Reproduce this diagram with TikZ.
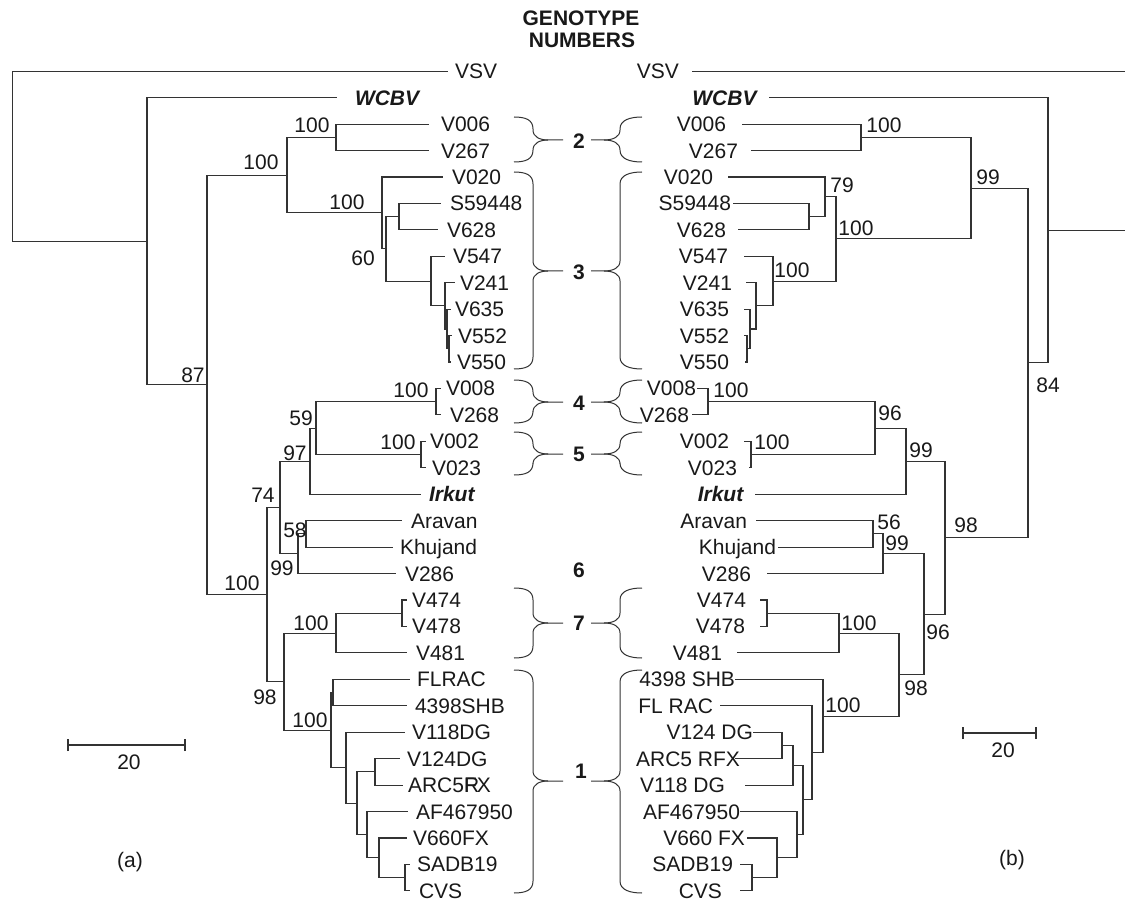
\documentclass[tikz,border=0pt]{standalone}
\usepackage{fontspec}
\setmainfont{Liberation Sans}
\newcommand\Row[1]{71.2+26.44*#1}
\newcommand\LeafL[5]{\coordinate (#1) at (#2,{\Row{#3}}); \node[leaf,anchor=base west] (#1t) at (#4,{\Row{#3}+7.5}) {#5};}
\newcommand\LeafR[5]{\coordinate (#1) at (#2,{\Row{#3}}); \node[leaf,anchor=base east] (#1t) at (#4,{\Row{#3}+7.5}) {#5};}
\newcommand\Inner[3]{\coordinate (#1) at (#2,{\Row{#3}});}
\newcommand\BrL[3]{\draw[brc] (514,#1) .. controls (526,#1) and (533,#1+3) .. (533,#1+12) -- (533,#3-10) .. controls (533,#3-3) and (540,#3) .. (548,#3) -- (563,#3);
 \draw[brc] (514,#2) .. controls (526,#2) and (533,#2-3) .. (533,#2-12) -- (533,#3+10) .. controls (533,#3+3) and (540,#3) .. (548,#3);}
\newcommand\BrR[3]{\draw[brc] (642,#1) .. controls (630,#1) and (620,#1+3) .. (620,#1+12) -- (620,#3-10) .. controls (620,#3-3) and (613,#3) .. (604,#3) -- (591,#3);
 \draw[brc] (642,#2) .. controls (630,#2) and (620,#2-3) .. (620,#2-12) -- (620,#3+10) .. controls (620,#3+3) and (613,#3) .. (604,#3);}
\begin{document}
\begin{tikzpicture}[x=1pt,y=-1pt,
  every node/.style={inner sep=0pt,outer sep=0pt,text=black!90},
  leaf/.style={font=\fontsize{21}{24}\selectfont},
  bs/.style={font=\fontsize{21}{24}\selectfont,anchor=center},
  gen/.style={font=\bfseries\fontsize{21}{24}\selectfont,anchor=center},
  tree/.style={line width=1.1pt,draw=black!80},
  brc/.style={line width=1pt,draw=black!80}]
\useasboundingbox[fill=white] (0,0) rectangle (1125,901);

% title
\node[gen] (t1) at (581,18) {GENOTYPE};
\node[gen] (t2) at (582,40) {NUMBERS};

% ---------------- left tree ----------------
\LeafL{lVSV}{448}{0}{455}{VSV}
\LeafL{lWCBV}{337}{1}{355}{\textbf{\textit{WCBV}}}
\LeafL{lV006}{429}{2}{441}{V006}
\LeafL{lV267}{429}{3}{441}{V267}
\LeafL{lV020}{443}{4}{452}{V020}
\LeafL{lS59448}{441}{5}{450}{S59448}
\LeafL{lV628}{438}{6}{447}{V628}
\LeafL{lV547}{445}{7}{453}{V547}
\LeafL{lV241}{455}{8}{460}{V241}
\LeafL{lV635}{451}{9}{455}{V635}
\LeafL{lV552}{452}{10}{458}{V552}
\LeafL{lV550}{451}{11}{457}{V550}
\LeafL{lV008}{441}{12}{446}{V008}
\LeafL{lV268}{441}{13}{450}{V268}
\LeafL{lV002}{426}{14}{430}{V002}
\LeafL{lV023}{426}{15}{432}{V023}
\LeafL{lIrkut}{421}{16}{429}{\textbf{\textit{Irkut}}}
\LeafL{lAravan}{402}{17}{411}{Aravan}
\LeafL{lKhujand}{393}{18}{400}{Khujand}
\LeafL{lV286}{396}{19}{405}{V286}
\LeafL{lV474}{407}{20}{412}{V474}
\LeafL{lV478}{407}{21}{412}{V478}
\LeafL{lV481}{407}{22}{416}{V481}
\LeafL{lFLRAC}{410}{23}{417}{FLRAC}
\LeafL{lSHB}{407}{24}{415}{4398SHB}
\LeafL{lV118}{405}{25}{412}{V118DG}
\LeafL{lV124}{400}{26}{407}{V124DG}
\LeafL{lARC}{403}{27}{408}{ARC5\rlap{R}FX}
\LeafL{lAF}{408}{28}{416}{AF467950}
\LeafL{lV660}{407}{29}{413}{V660FX}
\LeafL{lSADB}{410}{30}{417}{SADB19}
\LeafL{lCVS}{410}{31}{419}{CVS}

\Inner{lroot}{12.5}{3.215}
\Inner{nW}{147}{6.43}
\Inner{nB}{207}{11.86}
\Inner{nA}{287}{3.93}
\Inner{n2}{336}{2.5}
\Inner{n3}{382}{5.36}
\Inner{n60}{386}{6.72}
\Inner{nS}{399}{5.5}
\Inner{n547}{431}{7.94}
\Inner{n241}{445}{8.875}
\Inner{n635}{447}{9.75}
\Inner{n552}{449}{10.5}
\Inner{nC}{267}{19.79}
\Inner{n74}{280}{16.5}
\Inner{n97}{310}{14.75}
\Inner{n59}{316}{13.5}
\Inner{n4}{436}{12.5}
\Inner{n5}{421}{14.5}
\Inner{n99}{298}{18.25}
\Inner{n58}{306}{17.5}
\Inner{n98}{284}{23.085}
\Inner{n7}{336}{21.25}
\Inner{n78}{402}{20.5}
\Inner{n1}{331}{24.92}
\Inner{nFL}{333}{23.5}
\Inner{nX}{346}{26.34}
\Inner{nY}{357}{27.69}
\Inner{nV124}{375}{26.5}
\Inner{nZ}{367}{28.875}
\Inner{nWw}{379}{29.75}
\Inner{nSC}{405}{30.5}

\draw[tree] (lroot)|-(lVSV) (lroot)|-(nW)
 (nW)|-(lWCBV) (nW)|-(nB)
 (nB)|-(nA) (nB)|-(nC)
 (nA)|-(n2) (nA)|-(n3)
 (n2)|-(lV006) (n2)|-(lV267)
 (n3)|-(lV020) (n3)|-(n60)
 (n60)|-(nS) (n60)|-(n547)
 (nS)|-(lS59448) (nS)|-(lV628)
 (n547)|-(lV547) (n547)|-(n241)
 (n241)|-(lV241) (n241)|-(n635)
 (n635)|-(lV635) (n635)|-(n552)
 (n552)|-(lV552) (n552)|-(lV550)
 (nC)|-(n74) (nC)|-(n98)
 (n74)|-(n97) (n74)|-(n99)
 (n97)|-(n59) (n97)|-(lIrkut)
 (n59)|-(n4) (n59)|-(n5)
 (n4)|-(lV008) (n4)|-(lV268)
 (n5)|-(lV002) (n5)|-(lV023)
 (n99)|-(n58) (n99)|-(lV286)
 (n58)|-(lAravan) (n58)|-(lKhujand)
 (n98)|-(n7) (n98)|-(n1)
 (n7)|-(n78) (n7)|-(lV481)
 (n78)|-(lV474) (n78)|-(lV478)
 (n1)|-(nFL) (n1)|-(nX)
 (nFL)|-(lFLRAC) (nFL)|-(lSHB)
 (nX)|-(lV118) (nX)|-(nY)
 (nY)|-(nV124) (nY)|-(nZ)
 (nV124)|-(lV124) (nV124)|-(lARC)
 (nZ)|-(lAF) (nZ)|-(nWw)
 (nWw)|-(lV660) (nWw)|-(nSC)
 (nSC)|-(lSADB) (nSC)|-(lCVS);

% left bootstrap values
\node[bs] (b1) at (312,125) {100};
\node[bs] (b2) at (261,162) {100};
\node[bs] (b3) at (347,202) {100};
\node[bs] (b4) at (363,258) {60};
\node[bs] (b5) at (193,375) {87};
\node[bs] (b6) at (411,390) {100};
\node[bs] (b7) at (301,418) {59};
\node[bs] (b8) at (398,442) {100};
\node[bs] (b9) at (295,453) {97};
\node[bs] (b10) at (263,495) {74};
\node[bs] (b11) at (295,530) {58};
\node[bs] (b12) at (282,568) {99};
\node[bs] (b13) at (242,583) {100};
\node[bs] (b14) at (311,623) {100};
\node[bs] (b15) at (265,697) {98};
\node[bs] (b16) at (310,720) {100};

% ---------------- right tree ----------------
\LeafR{rVSV}{692}{0}{679}{VSV}
\LeafR{rWCBV}{769}{1}{758}{\textbf{\textit{WCBV}}}
\LeafR{rV006}{742}{2}{726}{V006}
\LeafR{rV267}{751}{3}{738}{V267}
\LeafR{rV020}{728}{4}{713}{V020}
\LeafR{rS59448}{733}{5}{731}{S59448}
\LeafR{rV628}{738}{6}{726}{V628}
\LeafR{rV547}{744}{7}{728}{V547}
\LeafR{rV241}{746}{8}{732}{V241}
\LeafR{rV635}{744}{9}{729}{V635}
\LeafR{rV552}{744}{10}{729}{V552}
\LeafR{rV550}{745}{11}{729}{V550}
\LeafR{rV008}{697}{12}{696}{V008}
\LeafR{rV268}{692}{13}{689}{V268}
\LeafR{rV002}{744}{14}{729}{V002}
\LeafR{rV023}{749}{15}{737}{V023}
\LeafR{rIrkut}{755}{16}{744}{\textbf{\textit{Irkut}}}
\LeafR{rAravan}{756}{17}{747}{Aravan}
\LeafR{rKhujand}{778}{18}{776}{Khujand}
\LeafR{rV286}{767}{19}{751}{V286}
\LeafR{rV474}{760}{20}{746}{V474}
\LeafR{rV478}{760}{21}{745}{V478}
\LeafR{rV481}{737}{22}{722}{V481}
\LeafR{rSHB}{735}{23}{735}{4398 SHB}
\LeafR{rFLRAC}{720}{24}{713}{FL RAC}
\LeafR{rV124}{753}{25}{753}{V124 DG}
\LeafR{rARC}{735}{26}{740}{ARC5 RFX}
\LeafR{rV118}{745}{27}{725}{V118 DG}
\LeafR{rAF}{740}{28}{740}{AF467950}
\LeafR{rV660}{747}{29}{745}{V660 FX}
\LeafR{rSADB}{740}{30}{733}{SADB19}
\LeafR{rCVS}{740}{31}{722}{CVS}

\Inner{rEdgeV}{1125}{0}
\Inner{rEdgeW}{1125}{6.01}
\Inner{rW}{1048}{6.01}
\Inner{rB}{1028}{11.03}
\Inner{rA}{971}{4.42}
\Inner{r2}{861}{2.5}
\Inner{r3}{836}{6.34}
\Inner{r79}{825}{4.75}
\Inner{rS}{809}{5.5}
\Inner{r547}{773}{7.94}
\Inner{r241}{756}{8.875}
\Inner{r635}{750}{9.75}
\Inner{r552}{747}{10.5}
\Inner{r98}{945}{17.64}
\Inner{r99u}{906}{14.75}
\Inner{r96u}{875}{13.5}
\Inner{r4}{708}{12.5}
\Inner{r5}{751}{14.5}
\Inner{r96l}{924}{20.535}
\Inner{r99l}{883}{18.25}
\Inner{r56}{873}{17.5}
\Inner{r98l}{899}{22.82}
\Inner{r7}{839}{21.25}
\Inner{r78}{767}{20.5}
\Inner{r1}{823}{24.39}
\Inner{rF}{812}{25.78}
\Inner{rG}{803}{27.56}
\Inner{rH}{793}{26.25}
\Inner{rK}{782}{25.5}
\Inner{rI}{797}{28.875}
\Inner{rJ}{777}{29.75}
\Inner{rSC}{752}{30.5}

\draw[tree] (rVSV)--(rEdgeV) (rW)--(rEdgeW)
 (rW)|-(rWCBV) (rW)|-(rB)
 (rB)|-(rA) (rB)|-(r98)
 (rA)|-(r2) (rA)|-(r3)
 (r2)|-(rV006) (r2)|-(rV267)
 (r3)|-(r79) (r3)|-(r547)
 (r79)|-(rV020) (r79)|-(rS)
 (rS)|-(rS59448) (rS)|-(rV628)
 (r547)|-(rV547) (r547)|-(r241)
 (r241)|-(rV241) (r241)|-(r635)
 (r635)|-(rV635) (r635)|-(r552)
 (r552)|-(rV552) (r552)|-(rV550)
 (r98)|-(r99u) (r98)|-(r96l)
 (r99u)|-(r96u) (r99u)|-(rIrkut)
 (r96u)|-(r4) (r96u)|-(r5)
 (r4)|-(rV008) (r4)|-(rV268)
 (r5)|-(rV002) (r5)|-(rV023)
 (r96l)|-(r99l) (r96l)|-(r98l)
 (r99l)|-(r56) (r99l)|-(rV286)
 (r56)|-(rAravan) (r56)|-(rKhujand)
 (r98l)|-(r7) (r98l)|-(r1)
 (r7)|-(r78) (r7)|-(rV481)
 (r78)|-(rV474) (r78)|-(rV478)
 (r1)|-(rSHB) (r1)|-(rF)
 (rF)|-(rFLRAC) (rF)|-(rG)
 (rG)|-(rH) (rG)|-(rI)
 (rH)|-(rK) (rH)|-(rV118)
 (rK)|-(rV124) (rK)|-(rARC)
 (rI)|-(rAF) (rI)|-(rJ)
 (rJ)|-(rV660) (rJ)|-(rSC)
 (rSC)|-(rSADB) (rSC)|-(rCVS);

% right bootstrap values
\node[bs] (c1) at (884,125) {100};
\node[bs] (c2) at (988,177) {99};
\node[bs] (c3) at (842,185) {79};
\node[bs] (c4) at (856,228) {100};
\node[bs] (c5) at (792,270) {100};
\node[bs] (c6) at (731,390) {100};
\node[bs] (c7) at (890,413) {96};
\node[bs] (c8) at (772,442) {100};
\node[bs] (c9) at (921,450) {99};
\node[bs] (c10) at (889,522) {56};
\node[bs] (c11) at (897,543) {99};
\node[bs] (c12) at (966,525) {98};
\node[bs] (c13) at (1048,385) {84};
\node[bs] (c14) at (859,623) {100};
\node[bs] (c15) at (938,632) {96};
\node[bs] (c16) at (916,688) {98};
\node[bs] (c17) at (843,705) {100};

% ---------------- genotype braces ----------------
\BrL{117}{162}{140} \BrR{117}{162}{140}
\BrL{172}{369}{271} \BrR{172}{369}{271}
\BrL{380}{423}{402} \BrR{380}{423}{402}
\BrL{432}{475}{454} \BrR{432}{475}{454}
\BrL{588}{658}{623} \BrR{588}{658}{623}
\BrL{670}{893}{781} \BrR{670}{893}{781}

\node[gen] (g2) at (579,141) {2};
\node[gen] (g3) at (579,272) {3};
\node[gen] (g4) at (579,403) {4};
\node[gen] (g5) at (579,454) {5};
\node[gen] (g6) at (579,570) {6};
\node[gen] (g7) at (579,623) {7};
\node[gen] (g1) at (581,771) {1};

% ---------------- scale bars and panel labels ----------------
\coordinate (sa1) at (68,745); \coordinate (sa2) at (185,745);
\draw[tree] (sa1)--(sa2) ([yshift=-6pt]sa1)--([yshift=6pt]sa1) ([yshift=-6pt]sa2)--([yshift=6pt]sa2);
\node[bs] (sal) at (129,762) {20};
\node[bs] (pa) at (130,862) {(a)};
\coordinate (sb1) at (963,733); \coordinate (sb2) at (1036,733);
\draw[tree] (sb1)--(sb2) ([yshift=-6pt]sb1)--([yshift=6pt]sb1) ([yshift=-6pt]sb2)--([yshift=6pt]sb2);
\node[bs] (sbl) at (1003,750) {20};
\node[bs] (pb) at (1012,860) {(b)};
\end{tikzpicture}
\end{document}
